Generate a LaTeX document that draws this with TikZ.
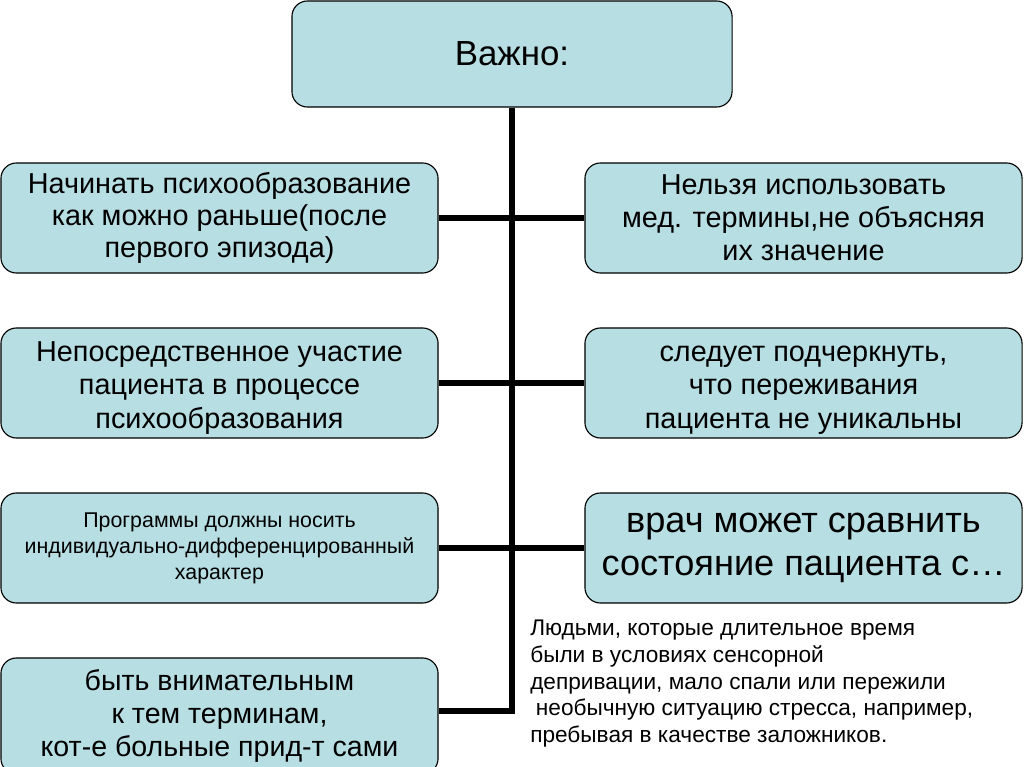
\documentclass[tikz,border=0pt]{standalone}
\usepackage{fontspec}
\setmainfont{Liberation Sans}
\definecolor{boxfill}{RGB}{183,222,227}
\newlength{\pxu}
\setlength{\pxu}{0.7113pt}
\tikzset{
  card/.style={draw=black, line width=0.8pt, fill=boxfill, rounded corners=11pt, align=center, inner sep=0pt},
  sidecard/.style={card, minimum width=437\pxu, minimum height=110\pxu},
  trunk/.style={line width=4.2pt}
}
\begin{document}
\begin{tikzpicture}[x=0.025cm,y=-0.025cm]
\clip (0,0) rectangle (1024,767);
\useasboundingbox (0,0) rectangle (1024,767);
\fill[white] (0,0) rectangle (1024,767);

%top box
\node[card, minimum width=440\pxu, minimum height=106\pxu, font=\fontsize{24.8}{29}\selectfont] (top) at (512,54) {Важно:};

%left column
\node[sidecard, font=\fontsize{20.5}{22.8}\selectfont] (l1) at (219.5,218) {Начинать психообразование\\как можно раньше(после\\первого эпизода)};
\node[sidecard, font=\fontsize{20.5}{23.9}\selectfont] (l2) at (219.5,383) {\rule{0pt}{21pt}Непосредственное участие\\пациента в процессе\\психообразования};
\node[sidecard, font=\fontsize{15.2}{18.5}\selectfont] (l3) at (219.5,548) {Программы должны носить\\индивидуально-дифференцированный\\характер};
\node[sidecard, minimum height=116\pxu, font=\fontsize{20.3}{23.5}\selectfont] (l4) at (219.5,716) {быть внимательным\\к тем терминам,\\кот-е больные прид-т сами};

%right column
\node[sidecard, font=\fontsize{20.5}{23.6}\selectfont] (r1) at (803.5,218) {Нельзя использовать\\мед. термины,не объясняя\\их значение};
\node[sidecard, font=\fontsize{20.5}{23.9}\selectfont] (r2) at (803.5,383) {\rule{0pt}{21pt}следует подчеркнуть,\\что переживания\\пациента не уникальны};
\node[sidecard, font=\fontsize{25.7}{30.5}\selectfont] (r3) at (803.5,548) {врач может сравнить\\состояние пациента с…};

\node[anchor=north west, align=left, inner sep=0pt, font=\fontsize{16.1}{18.9}\selectfont] (note) at (530,620) {Людьми, которые длительное время\\были в условиях сенсорной\\депривации, мало спали или пережили\\\hspace{0.25em}необычную ситуацию стресса, например,\\пребывая в качестве заложников.};

%connectors
\coordinate (bend) at (512,711);
\draw[trunk] (top.south) -- (bend) -- (bend -| l4.east);
\draw[trunk] (l1.east) -- (r1.west);
\draw[trunk] (l2.east) -- (r2.west);
\draw[trunk] (l3.east) -- (r3.west);
\end{tikzpicture}
\end{document}
